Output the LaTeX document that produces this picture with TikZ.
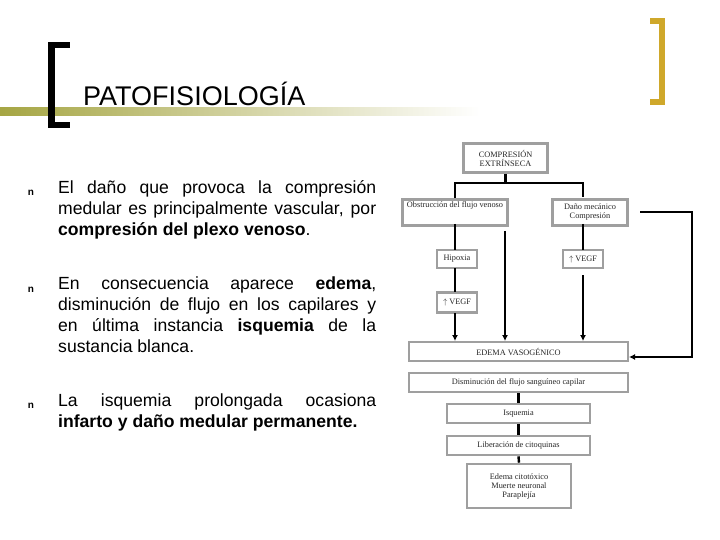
\documentclass[tikz,border=0pt]{standalone}
\usepackage{fontspec}
\setmainfont{Liberation Sans}
\newfontfamily\serifff{Liberation Serif}
\usetikzlibrary{arrows.meta}
\tikzset{
 fbox/.style={draw=gray!75,line width=2.6pt,fill=white,inner sep=1pt,align=center,font=\serifff\fontsize{8.3}{9}\selectfont,text=black!85},
 thick line/.style={line width=2.4pt,black},
 thin line/.style={line width=1.1pt,black},
 btxt/.style={anchor=north west,text width=318pt,align=justify,inner sep=0pt,font=\fontsize{17.6}{21}\selectfont},
 bul/.style={font=\bfseries\fontsize{10}{10}\selectfont,inner sep=0pt},
 arr/.style={-{Latex[length=6pt,width=6pt]}}
}
\begin{document}
\begin{tikzpicture}[x=1pt,y=-1pt]
\useasboundingbox (0,0) rectangle (720,540);
\hyphenpenalty=10000
% header
\shade[left color=olive!55!gray!70,right color=white] (0,108) rectangle (480,116);
\fill[black] (48,42) rectangle (55,128);
\fill[black] (48,42) rectangle (70,48);
\fill[black] (48,122) rectangle (70,128);
\fill[yellow!55!orange!80!black] (659,18) rectangle (665,105);
\fill[yellow!55!orange!80!black] (650,18) rectangle (665,24);
\fill[yellow!55!orange!80!black] (650,99) rectangle (665,105);
\node[anchor=base west,inner sep=0pt,font=\fontsize{27}{27}\selectfont] (title) at (83,106) {PATOFISIOLOGÍA};
% bullets
\node[bul] (b1) at (31,193) {n};
\node[bul] (b2) at (31,290) {n};
\node[bul] (b3) at (31,406) {n};
\node[btxt] (t1) at (58,180) {El daño que provoca la compresión\linebreak medular es principalmente vascular, por\linebreak \textbf{compresión del plexo venoso}.};
\node[btxt] (t2) at (58,277) {En consecuencia aparece \textbf{edema},\linebreak disminución de flujo en los capilares y\linebreak en última instancia \textbf{isquemia} de la\linebreak sustancia blanca.};
\node[btxt] (t3) at (58,394) {La isquemia prolongada ocasiona\linebreak \textbf{infarto y daño medular permanente.}};
% flowchart
\node[fbox,minimum width=84pt,minimum height=29pt] (comp) at (505.5,158) {COMPRESIÓN\\EXTRÍNSECA};
\node[fbox,minimum width=105pt,minimum height=26pt,anchor=north] (obs) at (455,198) {Obstrucción del flujo venoso\\[7pt]};
\node[fbox,minimum width=75pt,minimum height=26pt,anchor=north] (dano) at (590,198) {Daño mecánico\\Compresión};
\node[fbox,minimum width=40pt,minimum height=18pt] (hip) at (457,259) {Hipoxia};
\node[fbox,minimum width=40pt,minimum height=20pt] (vl) at (457,302.5) {$\uparrow$ VEGF};
\node[fbox,minimum width=40pt,minimum height=18pt] (vr) at (583,259) {$\uparrow$ VEGF};
\node[fbox,minimum width=219pt,minimum height=19pt] (edema) at (518.5,351.5) {EDEMA VASOGÉNICO};
\node[fbox,minimum width=219pt,minimum height=19pt] (dism) at (518.5,382.5) {Disminución del flujo sanguíneo capilar};
\node[fbox,minimum width=143pt,minimum height=19pt] (isq) at (518.5,413.5) {Isquemia};
\node[fbox,minimum width=143pt,minimum height=19pt] (lib) at (518.5,445.5) {Liberación de citoquinas};
\node[fbox,minimum width=104pt,minimum height=44pt] (cito) at (519,486) {Edema citotóxico\\Muerte neuronal\\Paraplejía};
% connectors
\coordinate (j) at (505.5,183);
\draw[thick line] (comp.south) -- (j);
\draw[thick line] (obs.north) |- (j) -| (583,196.7);
\draw[thick line] (455,224) -- (455,250);
\draw[thick line] (455,268) -- (455,292);
\draw[thick line,arr] (455,313) -- (455,341);
\draw[thin line,arr] (505,231) -- (505,341);
\draw[thin line] (583,224) -- (583,250);
\draw[thin line,arr] (583,275) -- (583,341);
\draw[thick line,arr] (640,212) -| (692,357) -- (629,357);
\draw[thick line] (dism.south) -- (isq.north);
\draw[thick line] (isq.south) -- (lib.north);
\draw[thick line] (lib.south) -- (cito.north);
\end{tikzpicture}
\end{document}
